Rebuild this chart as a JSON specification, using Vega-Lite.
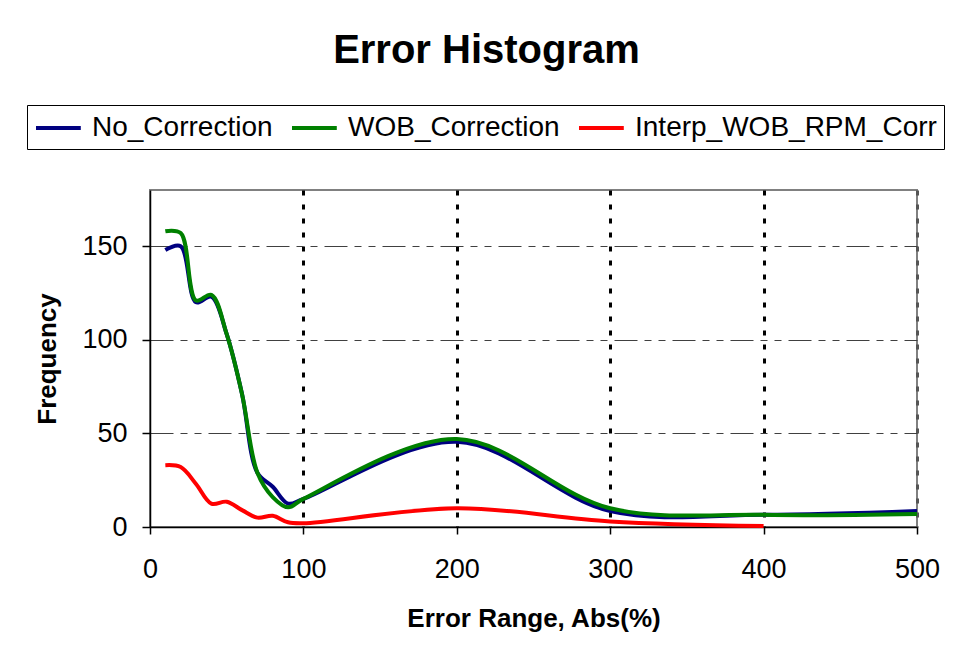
{
  "$schema": "https://vega.github.io/schema/vega-lite/v6.json",
  "autosize": "none",
  "width": 767,
  "height": 337,
  "padding": {"left": 150, "top": 190, "right": 38, "bottom": 132},
  "background": "white",
  "config": {
    "font": "Liberation Sans",
    "view": {"stroke": "#808080", "strokeWidth": 2},
    "title": {"font": "Liberation Sans", "fontSize": 40, "fontWeight": "bold", "color": "black"}
  },
  "title": {"text": "Error Histogram", "anchor": "middle", "frame": "group", "dx": -47, "baseline": "alphabetic", "offset": 2},
  "data": {
    "values": [
      {"x": 10, "y": 148, "s": "No_Correction"},
      {"x": 20, "y": 150, "s": "No_Correction"},
      {"x": 30, "y": 120, "s": "No_Correction"},
      {"x": 40, "y": 123, "s": "No_Correction"},
      {"x": 50, "y": 103, "s": "No_Correction"},
      {"x": 60, "y": 71, "s": "No_Correction"},
      {"x": 70, "y": 29, "s": "No_Correction"},
      {"x": 80, "y": 21.5, "s": "No_Correction"},
      {"x": 90, "y": 12.5, "s": "No_Correction"},
      {"x": 100, "y": 15, "s": "No_Correction"},
      {"x": 200, "y": 45.5, "s": "No_Correction"},
      {"x": 300, "y": 8.5, "s": "No_Correction"},
      {"x": 400, "y": 6.5, "s": "No_Correction"},
      {"x": 500, "y": 8.5, "s": "No_Correction"},
      {"x": 10, "y": 158, "s": "WOB_Correction"},
      {"x": 20, "y": 157, "s": "WOB_Correction"},
      {"x": 30, "y": 121, "s": "WOB_Correction"},
      {"x": 40, "y": 124, "s": "WOB_Correction"},
      {"x": 50, "y": 103, "s": "WOB_Correction"},
      {"x": 60, "y": 71, "s": "WOB_Correction"},
      {"x": 70, "y": 29, "s": "WOB_Correction"},
      {"x": 80, "y": 16, "s": "WOB_Correction"},
      {"x": 90, "y": 10.5, "s": "WOB_Correction"},
      {"x": 100, "y": 15, "s": "WOB_Correction"},
      {"x": 200, "y": 47, "s": "WOB_Correction"},
      {"x": 300, "y": 10, "s": "WOB_Correction"},
      {"x": 400, "y": 6.5, "s": "WOB_Correction"},
      {"x": 500, "y": 7, "s": "WOB_Correction"},
      {"x": 10, "y": 33, "s": "Interp_WOB_RPM_Corr"},
      {"x": 20, "y": 32, "s": "Interp_WOB_RPM_Corr"},
      {"x": 30, "y": 23, "s": "Interp_WOB_RPM_Corr"},
      {"x": 40, "y": 12.5, "s": "Interp_WOB_RPM_Corr"},
      {"x": 50, "y": 13.5, "s": "Interp_WOB_RPM_Corr"},
      {"x": 60, "y": 9, "s": "Interp_WOB_RPM_Corr"},
      {"x": 70, "y": 5, "s": "Interp_WOB_RPM_Corr"},
      {"x": 80, "y": 6, "s": "Interp_WOB_RPM_Corr"},
      {"x": 90, "y": 2.5, "s": "Interp_WOB_RPM_Corr"},
      {"x": 100, "y": 2, "s": "Interp_WOB_RPM_Corr"},
      {"x": 200, "y": 10, "s": "Interp_WOB_RPM_Corr"},
      {"x": 300, "y": 3, "s": "Interp_WOB_RPM_Corr"},
      {"x": 400, "y": 0.5, "s": "Interp_WOB_RPM_Corr"}
    ]
  },
  "mark": {"type": "line", "interpolate": "catmull-rom", "strokeWidth": 4},
  "encoding": {
    "x": {
      "field": "x", "type": "quantitative",
      "scale": {"domain": [0, 500], "nice": false, "zero": false},
      "axis": {
        "title": "Error Range, Abs(%)",
        "values": [0, 100, 200, 300, 400, 500],
        "labelFontSize": 27, "labelColor": "black", "labelPadding": 22, "labelFlush": false,
        "tickSize": 7, "tickColor": "black", "tickWidth": 1.5,
        "domainColor": "black", "domainWidth": 1.5,
        "grid": true,
        "gridColor": {"condition": [{"test": "datum.value === 0", "value": "transparent"}, {"test": "datum.value === 500", "value": "#555555"}], "value": "black"},
        "gridWidth": 3, "gridDash": [5, 9], "gridOpacity": 1,
        "titleFontSize": 26, "titleFontWeight": "bold", "titleColor": "black",
        "titleY": 99, "titleBaseline": "alphabetic"
      }
    },
    "y": {
      "field": "y", "type": "quantitative",
      "scale": {"domain": [0, 180], "nice": false},
      "axis": {
        "title": "Frequency",
        "values": [0, 50, 100, 150],
        "labelFontSize": 27, "labelColor": "black", "labelPadding": 15,
        "tickSize": 8, "tickColor": "black", "tickWidth": 1.5,
        "domainColor": "black", "domainWidth": 1.5,
        "grid": true,
        "gridColor": {"condition": {"test": "datum.value === 0", "value": "transparent"}, "value": "#404040"},
        "gridWidth": 1, "gridDash": [23, 7, 7, 7, 7, 7], "gridOpacity": 1,
        "titleFontSize": 26, "titleFontWeight": "bold", "titleColor": "black",
        "titleX": -95, "titleY": 168.5, "titleAngle": 270, "titleAlign": "center", "titleBaseline": "alphabetic"
      }
    },
    "color": {
      "field": "s", "type": "nominal",
      "scale": {"domain": ["No_Correction", "WOB_Correction", "Interp_WOB_RPM_Corr"], "range": ["#000080", "#008000", "#ff0000"]},
      "legend": {
        "title": null, "orient": "none", "legendX": -123, "legendY": -85, "direction": "horizontal",
        "symbolType": "M-1,0H2.2", "symbolSize": 784, "symbolStrokeWidth": 4,
        "labelFontSize": 28, "labelColor": "black", "labelOffset": 26, "columnPadding": 11,
        "padding": 7, "strokeColor": "black", "fillColor": "white", "labelLimit": 500
      }
    }
  }
}
